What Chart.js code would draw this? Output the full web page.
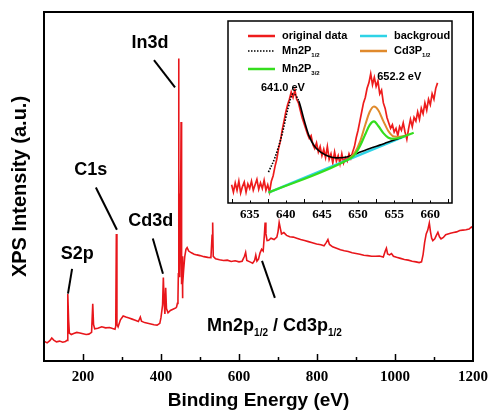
<!DOCTYPE html>
<html>
<head>
<meta charset="utf-8">
<script src="https://cdn.jsdelivr.net/npm/chart.js@4.4.1/dist/chart.umd.min.js"></script>
<style>
  body { margin: 0; background: #fff; }
  #wrap { position: relative; width: 491px; height: 412px; }
  #surveyChart { position: absolute; left: 0; top: 0; }
  #insetChart { position: absolute; left: 220px; top: 15px; }
</style>
</head>
<body>
<div id="wrap">
  <canvas id="surveyChart" width="491" height="412"></canvas>
  <canvas id="insetChart" width="240" height="212"></canvas>
</div>
<script>
// survey spectrum (binding energy, arbitrary intensity)
const surveyEnergy = [
  100, 108, 115, 120, 125, 132, 140, 148, 155, 159, 161, 163, 165, 170, 176, 184, 192, 200,
  208, 215, 222, 225, 227, 230, 238, 248, 258, 268, 276, 282, 284, 285.5, 287, 290, 296, 303,
  310, 318, 326, 334, 342, 347, 350, 358, 366, 374, 382, 390, 397, 400, 404, 406, 408, 410,
  412, 414, 418, 424, 432, 438, 440, 442, 443.5, 444.5, 445.2, 445.6, 446, 446.5, 447, 447.5,
  448, 448.7, 449.5, 450.2, 450.8, 451.5, 452, 452.5, 453, 453.7, 454.3, 455, 456, 458, 461,
  464, 467, 471, 478, 485, 492, 500, 510, 520, 528, 531, 532.5, 534, 540, 550, 560, 570, 580,
  590, 600, 608, 614, 617, 620, 628, 635, 640, 643, 646, 650, 654, 658, 662, 665, 667, 669,
  672, 676, 682, 690, 697, 700, 703, 706, 709, 715, 722, 730, 739, 748, 758, 768, 778, 788,
  799, 810, 818, 824, 828, 832, 840, 850, 860, 870, 880, 890, 900, 910, 920, 930, 940, 950,
  960, 970, 975, 978, 981, 986, 991, 996, 1004, 1014, 1024, 1034, 1044, 1054, 1062, 1068, 1072,
  1076, 1080, 1084, 1088, 1091, 1094, 1097, 1102, 1106, 1110, 1114, 1118, 1124, 1130, 1136,
  1142, 1150, 1158, 1166, 1174, 1182, 1190, 1196, 1200
];
const surveyCounts = [
  5.7, 5.2, 5.8, 6.6, 6.0, 5.5, 5.7, 5.4, 5.6, 5.9, 19.2, 12, 8.0, 7.6, 7.9, 8.2, 8.0, 7.8,
  7.6, 7.7, 8.2, 16.4, 10.5, 9.2, 9.4, 9.8, 9.5, 9.6, 9.3, 9.1, 10, 36.4, 10.5, 9.8, 11.8, 12.9,
  12.6, 12.3, 12.0, 11.7, 11.3, 12.6, 11.4, 11.0, 10.8, 10.6, 10.4, 10.3, 10.8, 12.5, 16, 23.9, 17, 13.5,
  21, 15, 13.8, 14.5, 14.9, 15.2, 15.5, 16.5, 18, 25, 60, 86.7, 55, 40, 48, 30,
  38, 24, 35, 28, 50, 68.5, 62, 68, 45, 22, 30, 18, 22, 26, 30,
  32, 32.5, 31.5, 31.0, 30.6, 30.4, 30.2, 29.9, 29.7, 29.6, 36, 39.7, 30, 29.3, 29.0, 28.8, 28.9, 28.5,
  28.7, 28.4, 28.6, 30, 31.1, 28.8, 28.4, 28.0, 28.8, 30.3, 28.6, 29.2, 31.0, 32.0, 31.5, 36, 39.7, 36.5,
  34.5, 34.6, 35.2, 34.8, 35.5, 37, 39.7, 38, 36.4, 36.8, 36.0, 35.6, 35.5, 35.2, 34.8, 34.5, 34.2, 33.9,
  33.5, 33.3, 33.0, 34.0, 34.8, 33.4, 32.7, 32.3, 31.9, 31.6, 31.4, 31.0, 30.8, 30.6, 30.3, 30.2, 30.0, 30.0,
  30.1, 29.8, 31.5, 32.3, 30.7, 30.4, 30.8, 30.0, 29.7, 29.4, 29.1, 28.9, 28.6, 28.4, 28.2, 28.4, 30.5,
  34, 36.4, 37.5, 39.5, 37, 35.2, 34.5, 35, 36.0, 36.9, 35.6, 35.0, 35.4, 36.2, 36.4,
  36.6, 36.8, 37.0, 37.4, 37.5, 37.6, 37.8, 38.4, 38.1
];

// inset: Mn2p / Cd3p region
const insetEnergy = [
  632.5, 632.75, 633, 633.25, 633.5, 633.75, 634, 634.25, 634.5, 634.75, 635, 635.25, 635.5, 635.75,
  636, 636.25, 636.5, 636.75, 637, 637.25, 637.5, 637.75, 638, 638.25, 638.5, 638.75, 639, 639.25,
  639.5, 639.75, 640, 640.25, 640.5, 640.75, 641, 641.25, 641.5, 641.75, 642, 642.25, 642.5, 642.75,
  643, 643.25, 643.5, 643.75, 644, 644.25, 644.5, 644.75, 645, 645.25, 645.5, 645.75, 646, 646.25,
  646.5, 646.75, 647, 647.25, 647.5, 647.75, 648, 648.25, 648.5, 648.75, 649, 649.25, 649.5, 649.75,
  650, 650.25, 650.5, 650.75, 651, 651.25, 651.5, 651.75, 652, 652.25, 652.5, 652.75, 653, 653.25,
  653.5, 653.75, 654, 654.25, 654.5, 654.75, 655, 655.25, 655.5, 655.75, 656, 656.25, 656.5, 656.75,
  657, 657.25, 657.5, 657.75, 658, 658.25, 658.5, 658.75, 659, 659.25, 659.5, 659.75, 660, 660.25,
  660.5, 660.75, 661
];
const insetCounts = [
  10, 6, 11, 7, 12, 5.5, 9, 11.5, 6, 10.5, 8, 12, 7, 10,
  13, 7.5, 11, 8, 12.5, 7, 10, 6, 12, 15, 20, 24, 30, 34,
  40, 45, 50, 54, 57, 61, 58, 62, 57, 55, 51, 47, 44, 41,
  38, 35.5, 37, 32, 30, 33, 28, 31, 26, 29.5, 25, 31, 24, 27,
  22, 28, 23, 26, 21.5, 27, 22, 25, 23, 27, 24.5, 28, 31, 36,
  40, 45, 50, 55, 58, 63, 66, 71, 65, 69, 64, 67, 60, 62,
  55, 52, 47, 44, 41, 43, 39, 41, 37, 42, 40, 44, 39, 35,
  41, 46, 42, 47, 45, 50, 46, 52, 49, 55, 51, 57, 54, 60,
  57, 63, 66
];
const backgroundEnergy = [637.6, 656.5];
const backgroundCounts = [5.7, 36.8];
const mn12Energy = [637.6, 638.5, 639.5, 640.3, 641.0, 641.8, 642.5, 643.2, 644, 645, 646, 647, 648, 649, 650, 651, 652, 653, 654, 655, 656];
const mn12Counts = [17, 25, 38, 52, 60, 56, 46, 37, 31, 27.5, 25.5, 24.8, 25, 26, 27.5, 29, 30.5, 31.8, 33.2, 34.6, 36];
const cd12Energy = [648.8, 649.6, 650.3, 651, 651.6, 652.2, 652.8, 653.5, 654.2, 655, 655.8, 656.4];
const cd12Counts = [24.6, 28, 34, 43, 50, 53, 51, 45, 39.5, 36.5, 36.4, 36.8];
const mn32Energy = [637.6, 648.5, 649.5, 650.3, 651, 651.6, 652.2, 652.8, 653.5, 654.2, 655, 655.8, 657.7];
const mn32Counts = [5.7, 23.6, 26.3, 31.6, 37.8, 42.8, 44.8, 42.3, 38.4, 35.9, 35.3, 35.9, 38.6];

// peak labels in data coordinates: label centre, then leader line
const peakLabels = [
  { parts: [['In3d']], at: [372, 91], line: [[382, 86.2], [436, 78.4]] },
  { parts: [['C1s']], at: [220, 54.6], line: [[233, 49.7], [287, 37.6]] },
  { parts: [['Cd3d']], at: [374, 40.2], line: [[379, 35.1], [405, 25]] },
  { parts: [['S2p']], at: [185, 30.7], line: [[172, 26.4], [161.5, 19.3]] },
  { parts: [['Mn2p'], ['1/2', true], [' / Cd3p'], ['1/2', true]], at: [691, 10], line: [[659, 28.7], [692, 18.1]] }
];
const insetPeakLabels = [
  { text: '641.0 eV', at: [639.6, 63.2] },
  { text: '652.2 eV', at: [655.7, 69.2] }
];

const SANS = '"Liberation Sans", Arial, sans-serif';
const SERIF = '"Liberation Serif", "Times New Roman", serif';

function pts(xs, ys) {
  return xs.map((x, i) => ({ x: x, y: ys[i] }));
}

function drawRich(ctx, parts, x, y, size, align) {
  const big = 'bold ' + size + 'px ' + SANS;
  const small = 'bold ' + Math.round(size * 0.56) + 'px ' + SANS;
  let w = 0;
  parts.forEach(([t, sub]) => { ctx.font = sub ? small : big; w += ctx.measureText(t).width; });
  let cx = align === 'center' ? x - w / 2 : x;
  ctx.textAlign = 'left';
  ctx.textBaseline = 'middle';
  parts.forEach(([t, sub]) => {
    ctx.font = sub ? small : big;
    ctx.fillText(t, cx, sub ? y + size * 0.42 : y);
    cx += ctx.measureText(t).width;
  });
}

function inwardTicks(ctx, scale, bottom, from, to, step, majorEvery, majorLen, minorLen) {
  ctx.beginPath();
  for (let v = from; v <= to + 1e-6; v += step) {
    const px = Math.round(scale.getPixelForValue(v)) + 0.5;
    const len = (Math.round((v - from) / step) % majorEvery === 0) ? majorLen : minorLen;
    ctx.moveTo(px, bottom);
    ctx.lineTo(px, bottom - len);
  }
  ctx.stroke();
}

const surveyDecor = {
  id: 'surveyDecor',
  afterDraw(chart) {
    const { ctx, chartArea: a, scales: { x, y } } = chart;
    ctx.save();
    ctx.strokeStyle = '#000';
    ctx.lineWidth = 1.5;
    inwardTicks(ctx, x, a.bottom, 200, 1100, 100, 2, 7, 4);
    ctx.lineWidth = 2;
    ctx.strokeRect(a.left, a.top, a.right - a.left, a.bottom - a.top);
    ctx.fillStyle = '#000';
    peakLabels.forEach(p => {
      ctx.beginPath();
      ctx.lineWidth = 2;
      ctx.moveTo(x.getPixelForValue(p.line[0][0]), y.getPixelForValue(p.line[0][1]));
      ctx.lineTo(x.getPixelForValue(p.line[1][0]), y.getPixelForValue(p.line[1][1]));
      ctx.stroke();
      drawRich(ctx, p.parts, x.getPixelForValue(p.at[0]), y.getPixelForValue(p.at[1]), 18, 'center');
    });
    ctx.restore();
  }
};

new Chart(document.getElementById('surveyChart'), {
  type: 'line',
  data: {
    datasets: [{
      data: pts(surveyEnergy, surveyCounts),
      borderColor: '#e8161b',
      borderWidth: 1.6,
      pointRadius: 0,
      tension: 0
    }]
  },
  options: {
    responsive: false,
    animation: false,
    layout: { padding: { left: 0, right: 18, top: 12, bottom: 0 } },
    plugins: { legend: { display: false }, tooltip: { enabled: false } },
    scales: {
      x: {
        type: 'linear',
        min: 100,
        max: 1200,
        grid: { display: false, drawTicks: false },
        border: { display: false },
        ticks: {
          stepSize: 200,
          includeBounds: false,
          maxRotation: 0,
          padding: 1,
          color: '#000',
          font: { family: SERIF, weight: 'bold', size: 15, lineHeight: 2 },
          callback: v => String(v)
        },
        title: {
          display: true,
          text: 'Binding Energy (eV)',
          color: '#000',
          font: { family: SANS, weight: 'bold', size: 19 },
          padding: { top: 0, bottom: 0 }
        },
        afterFit: s => { s.height = 51; }
      },
      y: {
        min: 0,
        max: 100,
        grid: { display: false, drawTicks: false },
        border: { display: false },
        ticks: { display: false },
        title: {
          display: true,
          text: 'XPS Intensity (a.u.)',
          color: '#000',
          font: { family: SANS, weight: 'bold', size: 20 },
          padding: { top: 8, bottom: 0 }
        },
        afterFit: s => { s.width = 44; }
      }
    }
  },
  plugins: [surveyDecor]
});

const insetDecor = {
  id: 'insetDecor',
  beforeDraw(chart) {
    const { ctx, chartArea: a } = chart;
    ctx.save();
    ctx.fillStyle = '#fff';
    ctx.fillRect(a.left, a.top, a.right - a.left, a.bottom - a.top);
    ctx.restore();
  },
  afterDraw(chart) {
    const { ctx, chartArea: a, scales: { x, y } } = chart;
    ctx.save();
    ctx.strokeStyle = '#000';
    ctx.lineWidth = 1;
    inwardTicks(ctx, x, a.bottom, 632.5, 662.5, 2.5, 2, 4, 2.5);
    ctx.lineWidth = 1.5;
    ctx.strokeRect(a.left, a.top, a.right - a.left, a.bottom - a.top);

    // legend
    const rows = [
      { x: 28, y: 21, color: '#ee1c1c', dash: [], parts: [['original data']] },
      { x: 140, y: 21, color: '#2ed3e6', dash: [], parts: [['backgroud']] },
      { x: 28, y: 36, color: '#000', dash: [1.5, 1.5], parts: [['Mn2P'], ['1/2', true]] },
      { x: 140, y: 36, color: '#e08a2c', dash: [], parts: [['Cd3P'], ['1/2', true]] },
      { x: 28, y: 54, color: '#35dd1e', dash: [], parts: [['Mn2P'], ['3/2', true]] }
    ];
    ctx.fillStyle = '#000';
    rows.forEach(r => {
      ctx.beginPath();
      ctx.setLineDash(r.dash);
      ctx.strokeStyle = r.color;
      ctx.lineWidth = r.dash.length ? 1.5 : 2.5;
      ctx.moveTo(r.x, r.y);
      ctx.lineTo(r.x + 27, r.y);
      ctx.stroke();
      ctx.setLineDash([]);
      drawRich(ctx, r.parts, r.x + 34, r.y, 11, 'left');
    });
    insetPeakLabels.forEach(p => {
      drawRich(ctx, [[p.text]], x.getPixelForValue(p.at[0]), y.getPixelForValue(p.at[1]), 11, 'center');
    });
    ctx.restore();
  }
};

new Chart(document.getElementById('insetChart'), {
  type: 'line',
  data: {
    datasets: [
      { data: pts(insetEnergy, insetCounts), borderColor: '#ee1c1c', borderWidth: 1.7, order: 5 },
      { data: pts(backgroundEnergy, backgroundCounts), borderColor: '#2ed3e6', borderWidth: 2.4, order: 4 },
      {
        data: pts(mn12Energy, mn12Counts), borderColor: '#000', borderWidth: 1.6, order: 3,
        cubicInterpolationMode: 'monotone',
        segment: { borderDash: c => c.p0.parsed.x < 641.5 ? [1.5, 1.5] : undefined }
      },
      { data: pts(cd12Energy, cd12Counts), borderColor: '#e08a2c', borderWidth: 2, order: 2, cubicInterpolationMode: 'monotone' },
      { data: pts(mn32Energy, mn32Counts), borderColor: '#35dd1e', borderWidth: 2.2, order: 1, cubicInterpolationMode: 'monotone' }
    ]
  },
  options: {
    responsive: false,
    animation: false,
    elements: { point: { radius: 0 }, line: { tension: 0 } },
    layout: { padding: { left: 8, right: 8, top: 6, bottom: 0 } },
    plugins: { legend: { display: false }, tooltip: { enabled: false } },
    scales: {
      x: {
        type: 'linear',
        min: 632,
        max: 663,
        grid: { display: false, drawTicks: false },
        border: { display: false },
        ticks: {
          stepSize: 5,
          includeBounds: false,
          maxRotation: 0,
          padding: 4,
          color: '#000',
          font: { family: SERIF, weight: 'bold', size: 13 }
        },
        afterFit: s => { s.height = 24; }
      },
      y: { display: false, min: 0, max: 100 }
    }
  },
  plugins: [insetDecor]
});
</script>
</body>
</html>
